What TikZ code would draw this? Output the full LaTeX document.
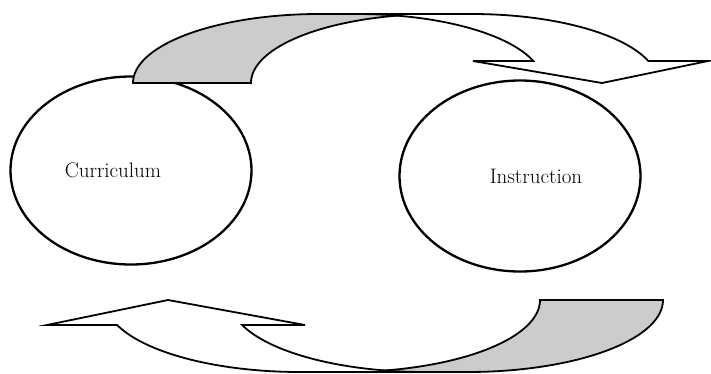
\documentclass[tikz,border=0pt]{standalone}
\usetikzlibrary{shapes.geometric}
\begin{document}
\begin{tikzpicture}[x=1pt,y=-1pt,
  oval/.style={draw, ellipse, line width=2.3pt, inner sep=0pt},
  band/.style={draw, line width=1.8pt, line join=miter},
  backband/.style={band, fill=gray!40},
  frontband/.style={band, fill=white},
  lbl/.style={font=\fontsize{21}{25}\selectfont, inner sep=0pt}]
\useasboundingbox (0,0) rectangle (711,373);
% circles
\node[oval, minimum width=241pt, minimum height=188pt] (curr) at (131,170.5) {};
\node[oval, minimum width=241pt, minimum height=191pt] (inst) at (520,176) {};
\node[lbl] (currtext) at (113,170) {Curriculum};
\node[lbl] (insttext) at (536,176) {Instruction};
% top curved arrow: back band
\draw[backband] plot[domain=180:270, samples=50] ({319+186*cos(\x)},{83+69*sin(\x)})
  -- plot[domain=270:180, samples=50] ({437+186*cos(\x)},{83+69*sin(\x)}) -- cycle;
% top curved arrow: front band with head
\draw[frontband] (602,83) -- (708,61)
  -- plot[domain=341.4:270, samples=50] ({472+186*cos(\x)},{83+69*sin(\x)})
  -- plot[domain=270:341.4, samples=50] ({357+186*cos(\x)},{83+69*sin(\x)})
  -- (473,61) -- cycle;
% bottom curved arrow: back band
\draw[backband] plot[domain=0:90, samples=50] ({468+195*cos(\x)},{300+72*sin(\x)})
  -- plot[domain=90:0, samples=50] ({345+195*cos(\x)},{300+72*sin(\x)}) -- cycle;
% bottom curved arrow: front band with head
\draw[frontband] (168,300) -- (47,325)
  -- plot[domain=159.7:90, samples=50] ({300+195*cos(\x)},{300+72*sin(\x)})
  -- plot[domain=90:159.7, samples=50] ({425+195*cos(\x)},{300+72*sin(\x)})
  -- (305,325) -- cycle;
\end{tikzpicture}
\end{document}
